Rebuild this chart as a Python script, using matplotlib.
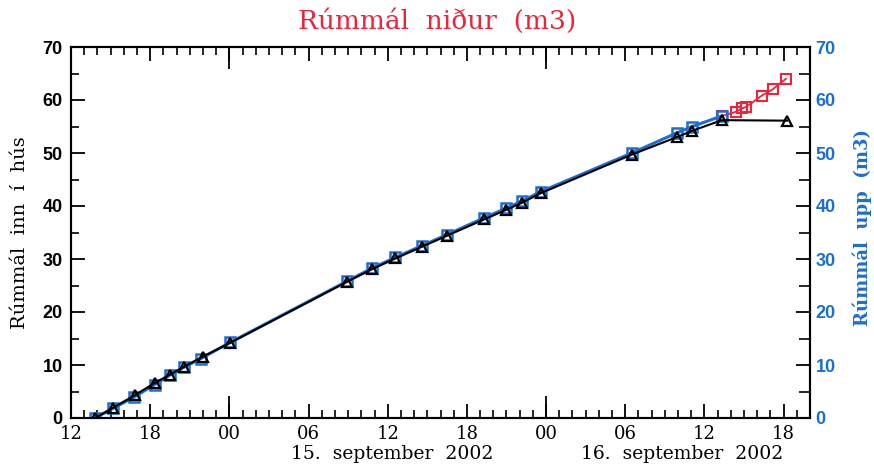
import matplotlib
matplotlib.use("Agg")
import matplotlib.pyplot as plt
import matplotlib.dates as mdates
import matplotlib.ticker as mticker
import pandas as pd

# rúmmál inn í hús (svartir þríhyrningar)
t_inn = ["2002-09-14 13:50", "2002-09-14 15:10", "2002-09-14 16:50", "2002-09-14 18:20",
         "2002-09-14 19:30", "2002-09-14 20:35", "2002-09-14 22:00", "2002-09-15 00:05",
         "2002-09-15 08:55", "2002-09-15 10:50", "2002-09-15 12:35", "2002-09-15 14:35",
         "2002-09-15 16:30", "2002-09-15 19:20", "2002-09-15 21:00", "2002-09-15 22:10",
         "2002-09-15 23:35", "2002-09-16 06:30", "2002-09-16 09:55", "2002-09-16 11:05",
         "2002-09-16 13:20", "2002-09-16 18:15"]
v_inn = [0.0, 1.9, 4.3, 6.6, 8.2, 9.7, 11.6, 14.2, 25.7, 28.1, 30.1, 32.3, 34.4, 37.5,
         39.3, 40.6, 42.4, 49.7, 53.0, 54.2, 56.2, 56.1]

# rúmmál upp (blá ferningar)
t_upp = ["2002-09-14 13:50", "2002-09-14 15:10", "2002-09-14 16:45", "2002-09-14 18:20",
         "2002-09-14 19:30", "2002-09-14 20:35", "2002-09-14 21:50", "2002-09-15 00:05",
         "2002-09-15 08:55", "2002-09-15 10:50", "2002-09-15 12:35", "2002-09-15 14:35",
         "2002-09-15 16:30", "2002-09-15 19:20", "2002-09-15 21:00", "2002-09-15 22:10",
         "2002-09-15 23:35", "2002-09-16 06:30", "2002-09-16 09:55", "2002-09-16 11:05",
         "2002-09-16 13:20"]
v_upp = [0.0, 1.8, 3.9, 6.3, 8.1, 9.6, 11.2, 14.3, 25.8, 28.3, 30.3, 32.5, 34.6, 37.8,
         39.6, 40.9, 42.7, 50.0, 53.8, 55.0, 57.0]

# rúmmál niður (rauðir ferningar)
t_nidur = ["2002-09-16 13:20", "2002-09-16 14:25", "2002-09-16 14:50", "2002-09-16 15:10",
           "2002-09-16 16:20", "2002-09-16 17:10", "2002-09-16 18:10"]
v_nidur = [57.0, 57.8, 58.4, 58.7, 60.8, 62.0, 64.0]

date_labels = ["15.  september  2002", "16.  september  2002"]
date_label_pos = ["2002-09-15 12:20", "2002-09-16 10:20"]

RED = "#ee2238"
BLUE = "#1c6fd0"

t_inn = pd.to_datetime(t_inn)
t_upp = pd.to_datetime(t_upp)
t_nidur = pd.to_datetime(t_nidur)
x0, x1 = pd.Timestamp("2002-09-14 12:00"), pd.Timestamp("2002-09-16 20:00")

fig = plt.figure(figsize=(8.74, 4.67), dpi=100)
ax = fig.add_axes([71/874, 1-418/467, (810-71)/874, (418-47)/467])

ax.plot(t_nidur, v_nidur, color=RED, lw=1.3, marker="s", ms=6.5, mfc="none",
        mec=RED, mew=1.5, zorder=2)
ax.plot(t_upp, v_upp, color=BLUE, lw=2.2, marker="s", ms=6.5, mfc="none",
        mec=BLUE, mew=1.8, zorder=3)
ax.plot(t_inn, v_inn, color="black", lw=1.5, marker="^", ms=7.5, mfc="none",
        mec="black", mew=1.6, zorder=4)

ax.set_xlim(x0, x1)
ax.set_ylim(0, 70)

# lengri strik við miðnætti (auka ás)
ax3 = ax.twiny()
ax3.set_xlim(x0, x1)
ax3.xaxis.set_major_locator(mdates.HourLocator(byhour=[0]))
ax3.xaxis.set_minor_locator(mticker.NullLocator())
ax3.tick_params(axis="x", which="major", direction="in", length=16, width=1.3,
                top=True, bottom=True, labeltop=False, labelbottom=False)
for s in ax3.spines.values():
    s.set_visible(False)

ax2 = ax.twinx()

ax.xaxis.set_major_locator(mdates.HourLocator(byhour=[0, 6, 12, 18]))
ax.xaxis.set_minor_locator(mdates.HourLocator())
ax.xaxis.set_major_formatter(mdates.DateFormatter("%H"))
ax.set_yticks(range(0, 71, 10))
ax.set_yticks(range(5, 70, 10), minor=True)

for s in ax.spines.values():
    s.set_linewidth(1.5)

ax.tick_params(axis="x", which="major", direction="in", length=10, width=1.3,
               top=True, bottom=True, pad=5, labelsize=13)
ax.tick_params(axis="x", which="minor", direction="in", length=5.5, width=1.2,
               top=True, bottom=True)
ax.tick_params(axis="y", which="major", direction="in", length=10, width=1.3,
               pad=6, labelsize=13)
ax.tick_params(axis="y", which="minor", direction="in", length=6, width=1.2)
for lbl in ax.get_xticklabels():
    lbl.set_fontfamily("DejaVu Serif")
for lbl in ax.get_yticklabels():
    lbl.set_fontfamily("Liberation Sans")
    lbl.set_fontweight("bold")

ax2.set_ylim(0, 70)
ax2.set_yticks(range(0, 71, 10))
ax2.set_yticks(range(5, 70, 10), minor=True)
ax2.tick_params(axis="y", which="major", direction="in", length=10, width=1.3,
                pad=4, labelsize=13, labelcolor=BLUE)
ax2.tick_params(axis="y", which="minor", direction="in", length=8, width=1.2)
for lbl in ax2.get_yticklabels():
    lbl.set_fontfamily("Liberation Sans")
    lbl.set_fontweight("bold")
for s in ax2.spines.values():
    s.set_linewidth(1.5)

trans = matplotlib.transforms.blended_transform_factory(ax.transData, ax.transAxes)
for lab, pos in zip(date_labels, date_label_pos):
    ax.text(pd.Timestamp(pos), (418-445)/371, lab, transform=trans, ha="center", va="top",
            fontsize=13.5, family="DejaVu Serif")

fig.text(0.5, 1-21/467, "Rúmmál  niður  (m3)", ha="center", va="center",
         fontsize=19, family="DejaVu Serif", color=RED)
fig.text(20/874, 1-233/467, "Rúmmál  inn  í  hús", rotation=90, ha="center",
         va="center", fontsize=14, family="DejaVu Serif")
fig.text(862/874, 1-228/467, "Rúmmál  upp  (m3)", rotation=90, ha="center",
         va="center", fontsize=13, family="DejaVu Serif", weight="bold", color=BLUE)

fig.savefig("out.png", dpi=100)
